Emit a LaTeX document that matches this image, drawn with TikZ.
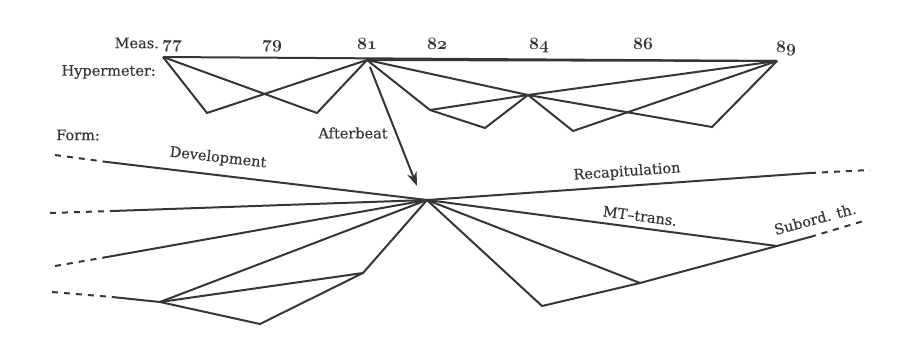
\documentclass[tikz,border=0pt]{standalone}
\usepackage{fontspec}
\setmainfont{DejaVu Serif}
\newfontfamily\lblfont[FakeBold=0.3,Ligatures=TeX]{DejaVu Serif}
\usetikzlibrary{arrows.meta}
\definecolor{ink}{HTML}{363636}
\newcommand\osnum[1]{{\fontsize{18}{20}\usefont{OML}{cmm}{b}{it}#1}}
\begin{document}
\begin{tikzpicture}[x=1pt,y=-1pt,
  ln/.style={draw=ink,line width=2pt,line join=miter},
  dsh/.style={draw=ink,line width=2pt,dash pattern=on 6pt off 6pt},
  lbl/.style={text=ink,font=\fontsize{14.5}{16}\lblfont,inner sep=0pt}]
\useasboundingbox (0,0) rectangle (900,351);
% labels
\node[lbl,anchor=east] (meas) at (159,43) {Meas.};
\node[lbl] (n77) at (172,46) {\osnum{77}};
\node[lbl] (n79) at (272,46) {\osnum{79}};
\node[lbl] (n81) at (367,44) {\osnum{81}};
\node[lbl] (n82) at (437,44) {\osnum{82}};
\node[lbl] (n84) at (539,46) {\osnum{84}};
\node[lbl] (n86) at (643,44) {\osnum{86}};
\node[lbl] (n89) at (786,49) {\osnum{89}};
\node[lbl,anchor=east] (hyp) at (156,72) {Hypermeter:};
\node[lbl] (after) at (353,133) {Afterbeat};
\node[lbl] (form) at (78,135) {Form:};
\node[lbl,rotate=-6.5] (dev) at (218,158) {Development};
\node[lbl,rotate=4] (recap) at (627,172) {Recapitulation};
\node[lbl,rotate=-7.5] (mt) at (640,216) {MT–trans.};
\node[lbl,rotate=15] (sub) at (815,219) {Subord. th.};
% hypermeter points
\coordinate (A) at (163,57);
\coordinate (B) at (367,60);
\coordinate (Z) at (777,61);
\coordinate (L1) at (207,113);
\coordinate (L2) at (317,113);
\coordinate (P1) at (430,110);
\coordinate (P2) at (485,128);
\coordinate (M) at (528,95);
\coordinate (P3) at (573,131);
\coordinate (P4) at (712,127);
\draw[ln] (A) -- (Z);
\draw[ln] (B) -- (Z);
\draw[ln] (A) -- (L1) -- (B);
\draw[ln] (A) -- (L2) -- (B);
\draw[ln] (B) -- (P1) -- (P2) -- (M);
\draw[ln] (P1) -- (M) -- (Z);
\draw[ln] (B) -- (M) -- (P4) -- (Z);
\draw[ln] (M) -- (P3) -- (Z);
% afterbeat arrow
\coordinate (arS) at (370,67);
\coordinate (C) at (427,200);
\coordinate (arE) at (417,186);
\draw[ln,-{Stealth[length=14pt,width=10pt]}] (arS) -- (arE);
% form left
\coordinate (d1a) at (55,155); \coordinate (d1b) at (107,162);
\coordinate (d2a) at (50,213); \coordinate (d2b) at (112,211);
\coordinate (d3a) at (55,266); \coordinate (d3b) at (107,257);
\coordinate (d4a) at (52,292); \coordinate (d4b) at (112,297);
\coordinate (Q1) at (160,302);
\coordinate (Q2) at (363,273);
\coordinate (Q3) at (260,324);
\draw[dsh] (d1a) -- (d1b);
\draw[dsh] (d2a) -- (d2b);
\draw[dsh] (d3a) -- (d3b);
\draw[dsh] (d4a) -- (d4b);
\draw[ln] (d1b) -- (C);
\draw[ln] (d2b) -- (C);
\draw[ln] (d3b) -- (C);
\draw[ln] (d4b) -- (Q1) -- (C);
\draw[ln] (Q1) -- (Q2) -- (C);
\draw[ln] (Q1) -- (Q3) -- (Q2);
% form right
\coordinate (r1b) at (810,173); \coordinate (r1c) at (870,170);
\coordinate (R2) at (777,246);
\coordinate (R3) at (640,283);
\coordinate (R4) at (542,306);
\coordinate (r5b) at (810,237); \coordinate (r5c) at (867,220);
\draw[ln] (C) -- (r1b);
\draw[dsh] (r1b) -- (r1c);
\draw[ln] (C) -- (R2);
\draw[ln] (C) -- (R3);
\draw[ln] (C) -- (R4) -- (R3) -- (R2) -- (r5b);
\draw[dsh] (r5b) -- (r5c);
\end{tikzpicture}
\end{document}
